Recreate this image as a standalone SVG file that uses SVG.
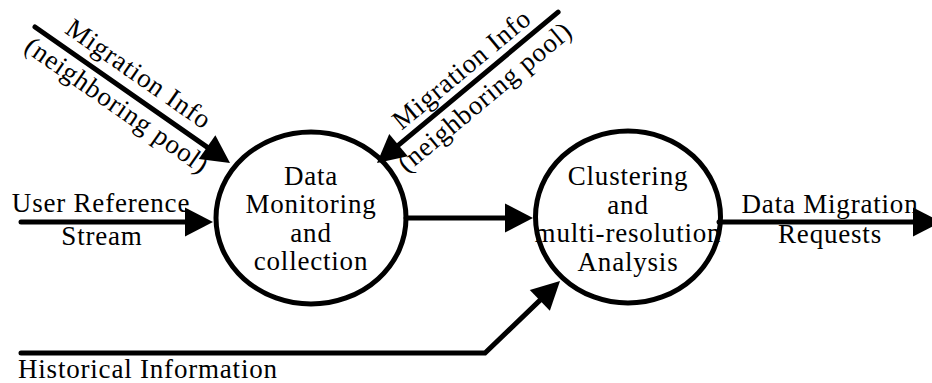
<svg xmlns="http://www.w3.org/2000/svg" width="932" height="383" viewBox="0 0 932 383">
  <style>
    .t { font-family: "Liberation Serif", "Times New Roman", serif; font-size: 27px; letter-spacing: 0.8px; fill: #000; }
    .c { text-anchor: middle; }
    .ln { fill: none; stroke: #000; stroke-width: 5; stroke-linecap: round; stroke-linejoin: miter; }
    .node { fill: none; stroke: #000; stroke-width: 5; }
  </style>
  <defs>
    <marker id="ah" markerUnits="userSpaceOnUse" markerWidth="30" markerHeight="30" refX="4" refY="14.5" orient="auto" overflow="visible">
      <path d="M0,0 L28,14.5 L0,29 z" fill="#000"/>
    </marker>
  </defs>
  <rect width="932" height="383" fill="#fff"/>

  <g id="node-monitoring">
    <text class="t c" x="311" y="184.5">Data</text>
    <text class="t c" x="311" y="213">Monitoring</text>
    <text class="t c" x="311" y="241.5">and</text>
    <text class="t c" x="311" y="270">collection</text>
    <ellipse class="node" cx="311" cy="218" rx="95" ry="86"/>
  </g>

  <g id="node-analysis">
    <text class="t c" x="628" y="185">Clustering</text>
    <text class="t c" x="628" y="213.5">and</text>
    <text class="t c" x="628" y="242">multi-resolution</text>
    <text class="t c" x="628" y="270.5">Analysis</text>
    <ellipse class="node" cx="628" cy="217" rx="92.5" ry="86"/>
  </g>

  <g id="connectors">
    <path class="ln" d="M21,222 H189" marker-end="url(#ah)"/>
    <path class="ln" d="M406,218 H509" marker-end="url(#ah)"/>
    <path class="ln" d="M719,222 H917" marker-end="url(#ah)"/>
    <path class="ln" d="M21,353 H485 L542.7,297.6" marker-end="url(#ah)"/>
    <g transform="translate(35,27) rotate(34.9)">
      <path class="ln" d="M0,0 H213.8" marker-end="url(#ah)"/>
    </g>
    <g transform="translate(377,163) rotate(-39.8)">
      <path class="ln" d="M235.7,0 H24" marker-end="url(#ah)"/>
    </g>
  </g>

  <g id="labels">
    <text class="t c" x="101" y="212">User Reference</text>
    <text class="t c" x="102" y="245">Stream</text>
    <text class="t c" x="830" y="213">Data Migration</text>
    <text class="t c" x="830" y="243">Requests</text>
    <text class="t" x="18" y="378">Historical Information</text>
    <g transform="translate(35,27) rotate(34.9)">
      <text class="t c" x="112" y="-12">Migration Info</text>
      <text class="t c" x="112" y="26">(neighboring pool)</text>
    </g>
    <g transform="translate(377,163) rotate(-39.8)">
      <text class="t c" x="125" y="-9">Migration Info</text>
      <text class="t c" x="125" y="27">(neighboring pool)</text>
    </g>
  </g>
</svg>
